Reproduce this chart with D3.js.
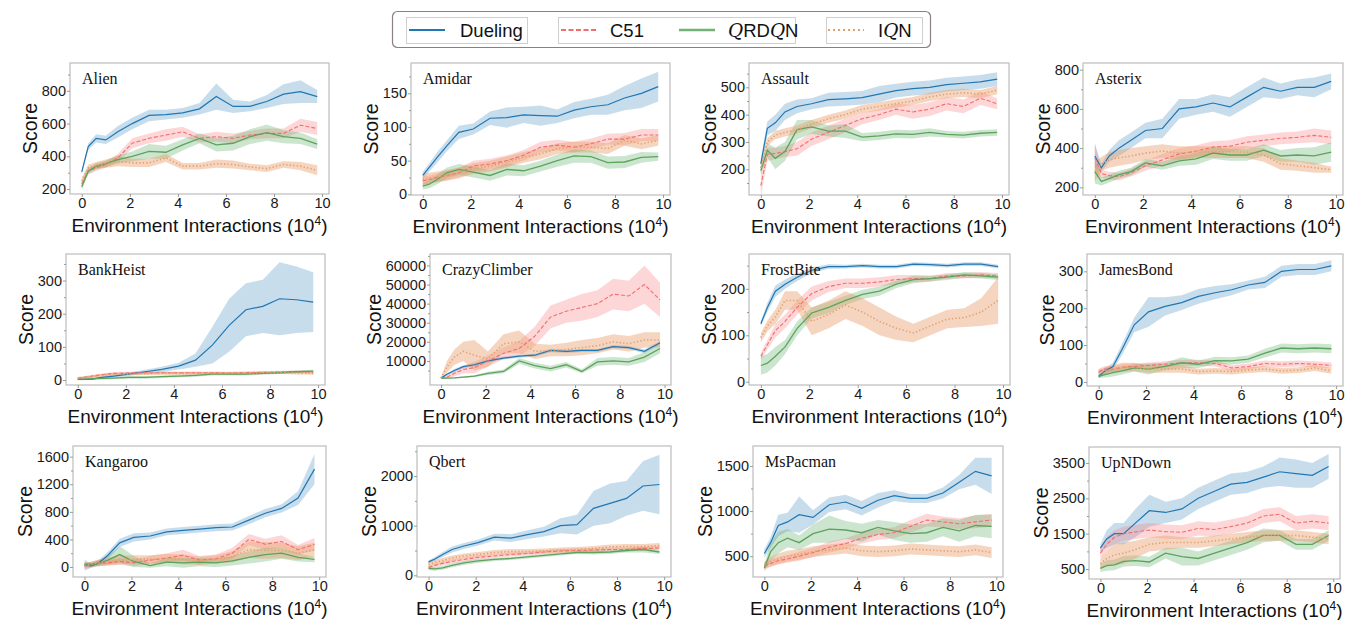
<!DOCTYPE html>
<html>
<head>
<meta charset="utf-8">
<script src="https://cdn.jsdelivr.net/npm/d3@7"></script>
<style>
  body { margin: 0; background: #fff; }
  svg { font-family: "Liberation Sans", Arial, sans-serif; }
</style>
</head>
<body>
<div id="chart"></div>
<script>
// environment interactions (x 10^4) at which each run was evaluated
var steps = [0, 0.27, 0.6, 1.0, 1.5, 2.1, 2.8, 3.5, 4.2, 4.9, 5.6, 6.3, 7.0, 7.7, 8.4, 9.1, 9.8];

var games = ["Alien", "Amidar", "Assault", "Asterix", "BankHeist", "CrazyClimber",
  "FrostBite", "JamesBond", "Kangaroo", "Qbert", "MsPacman", "UpNDown"];

var xTicks = [0, 2, 4, 6, 8, 10];

var yTicks = [
  [200, 400, 600, 800], [0, 50, 100, 150], [200, 300, 400, 500], [200, 400, 600, 800],
  [0, 100, 200, 300], [10000, 20000, 30000, 40000, 50000, 60000], [0, 100, 200], [0, 100, 200, 300],
  [0, 400, 800, 1200, 1600], [0, 1000, 2000], [500, 1000, 1500], [500, 1500, 2500, 3500]
];

var yLimits = [
  [170, 970], [-1, 195], [106, 589], [161, 834],
  [-15, 380], [-2600, 66000], [-7, 275], [-11, 347],
  [-145, 1755], [-34, 2606], [270, 1720], [220, 3950]
];

// one row per game, same order as `games`
var duelingMean = [
  [305, 460, 510, 500, 550, 600, 650, 655, 665, 690, 765, 705, 705, 735, 780, 795, 765],
  [28, 40, 55, 72, 92, 97, 113, 114, 118, 117, 116, 125, 130, 133, 143, 150, 160],
  [220, 350, 370, 410, 430, 440, 455, 458, 462, 475, 488, 495, 500, 510, 515, 520, 530],
  [360, 300, 360, 400, 440, 490, 500, 600, 610, 630, 610, 660, 710, 690, 710, 710, 740],
  [2, 2, 3, 8, 12, 18, 25, 32, 42, 60, 105, 165, 212, 222, 245, 242, 235],
  [1000, 3000, 5000, 7000, 8000, 10000, 11500, 12500, 13000, 15500, 15000, 15500, 15500, 17500, 17000, 15000, 19500],
  [125, 160, 195, 210, 225, 240, 248, 248, 250, 248, 248, 253, 252, 250, 253, 253, 248],
  [15, 30, 42, 90, 155, 190, 205, 215, 232, 242, 250, 263, 270, 300, 305, 305, 315],
  [30, 15, 60, 170, 350, 430, 450, 510, 530, 550, 570, 580, 680, 780, 850, 1000, 1420],
  [270, 330, 420, 520, 590, 660, 770, 750, 820, 880, 1000, 1020, 1350, 1450, 1550, 1800, 1830],
  [530, 650, 840, 880, 960, 930, 1070, 1100, 1030, 1120, 1170, 1140, 1140, 1200, 1320, 1440, 1390],
  [1100, 1350, 1500, 1500, 1800, 2150, 2100, 2200, 2500, 2700, 2900, 2950, 3100, 3250, 3200, 3150, 3400]
];
var duelingSpread = [
  [15, 20, 25, 25, 35, 35, 35, 30, 30, 35, 80, 40, 30, 40, 60, 70, 40],
  [5, 6, 8, 8, 10, 8, 10, 15, 12, 15, 10, 12, 12, 15, 18, 22, 22],
  [20, 25, 30, 30, 25, 20, 25, 25, 25, 30, 25, 25, 25, 25, 25, 25, 25],
  [60, 20, 30, 40, 40, 40, 50, 50, 40, 45, 50, 50, 50, 40, 40, 50, 40],
  [1, 1, 2, 3, 4, 5, 6, 8, 10, 20, 55, 80, 80, 80, 110, 100, 90],
  [300, 600, 800, 800, 800, 800, 800, 800, 800, 900, 800, 800, 800, 900, 900, 1000, 1000],
  [5, 10, 12, 10, 8, 6, 5, 4, 4, 4, 4, 4, 4, 4, 4, 4, 4],
  [5, 8, 10, 15, 20, 40, 25, 20, 20, 18, 15, 12, 15, 15, 15, 15, 15],
  [80, 30, 40, 50, 60, 60, 50, 50, 50, 50, 50, 50, 60, 60, 60, 100, 220],
  [30, 40, 50, 60, 60, 60, 70, 80, 90, 100, 150, 200, 350, 400, 350, 500, 600],
  [50, 60, 120, 100, 200, 80, 80, 80, 80, 80, 60, 50, 50, 60, 80, 150, 200],
  [100, 250, 300, 300, 400, 450, 300, 300, 300, 300, 300, 300, 300, 400, 400, 350, 350]
];

var c51Mean = [
  [230, 310, 330, 350, 390, 480, 510, 530, 550, 510, 520, 510, 530, 540, 540, 590, 570],
  [20, 22, 25, 28, 32, 42, 45, 50, 58, 70, 73, 70, 75, 82, 82, 88, 88],
  [140, 255, 258, 265, 275, 310, 335, 360, 385, 400, 420, 410, 420, 440, 430, 460, 440],
  [350, 270, 260, 255, 275, 310, 340, 370, 385, 405, 410, 430, 440, 450, 455, 465, 455],
  [5, 8, 12, 16, 20, 21, 22, 22, 22, 22, 22, 21, 22, 23, 24, 25, 24],
  [1000, 1500, 3500, 5500, 6500, 10000, 14000, 16500, 23000, 33000, 36000, 38000, 40000, 45000, 44000, 50000, 42000],
  [55, 80, 110, 130, 160, 190, 205, 212, 212, 215, 220, 222, 222, 228, 228, 230, 228],
  [28, 35, 35, 40, 42, 45, 48, 52, 52, 50, 38, 42, 50, 48, 50, 48, 45],
  [10, 30, 60, 60, 80, 60, 100, 130, 170, 100, 120, 200, 400, 330, 370, 250, 330],
  [160, 200, 240, 280, 320, 360, 390, 420, 440, 470, 490, 500, 510, 520, 520, 540, 550],
  [390, 420, 450, 470, 500, 540, 600, 640, 700, 740, 760, 830, 900, 880, 860, 880, 900],
  [950, 1200, 1400, 1500, 1550, 1600, 1560, 1540, 1650, 1620, 1700, 1800, 2000, 2050, 1800, 1850, 1800]
];
var c51Spread = [
  [20, 20, 20, 20, 25, 30, 30, 35, 30, 25, 30, 30, 25, 30, 30, 40, 40],
  [6, 6, 6, 7, 7, 8, 8, 8, 8, 8, 8, 8, 8, 8, 9, 9, 9],
  [40, 25, 20, 20, 25, 25, 25, 25, 20, 20, 20, 25, 25, 25, 25, 25, 20],
  [80, 20, 20, 20, 20, 25, 30, 30, 30, 30, 30, 30, 30, 30, 30, 35, 35],
  [4, 4, 4, 4, 4, 4, 4, 4, 4, 4, 4, 4, 4, 4, 4, 4, 4],
  [500, 1000, 1500, 2000, 3000, 3000, 3000, 4000, 5000, 6000, 6000, 7000, 7000, 8000, 8000, 10000, 9000],
  [8, 10, 15, 15, 15, 15, 12, 10, 10, 10, 10, 8, 6, 6, 6, 6, 6],
  [8, 8, 8, 8, 8, 8, 8, 8, 8, 8, 8, 8, 8, 8, 8, 8, 8],
  [40, 40, 40, 40, 50, 50, 60, 70, 80, 60, 60, 80, 80, 80, 90, 70, 90],
  [40, 40, 40, 40, 40, 40, 40, 40, 40, 40, 40, 40, 40, 40, 40, 40, 40],
  [40, 40, 40, 40, 50, 50, 60, 60, 60, 60, 60, 70, 70, 60, 60, 70, 70],
  [150, 200, 200, 200, 200, 200, 200, 200, 200, 200, 200, 200, 200, 200, 200, 200, 200]
];

var qrdqnMean = [
  [215, 310, 340, 355, 380, 400, 430, 425, 470, 510, 470, 480, 520, 545, 520, 510, 475],
  [12, 15, 22, 32, 37, 33, 28, 37, 35, 42, 50, 57, 56, 47, 48, 55, 56],
  [195, 270, 240, 265, 345, 355, 340, 340, 318, 322, 330, 328, 335, 328, 325, 332, 335],
  [280, 230, 245, 265, 280, 325, 310, 335, 345, 375, 365, 365, 390, 360, 365, 360, 380],
  [3, 3, 4, 5, 6, 8, 8, 10, 12, 14, 18, 18, 18, 20, 22, 25, 27],
  [1000, 1000, 1100, 1500, 2000, 3500, 4500, 10000, 7500, 6000, 8000, 4500, 9500, 10000, 9500, 12000, 16500],
  [35, 40, 55, 75, 115, 148, 160, 175, 188, 195, 210, 220, 222, 225, 230, 228, 225],
  [15, 20, 25, 30, 38, 35, 42, 52, 48, 58, 57, 62, 78, 92, 90, 92, 90],
  [40, 40, 50, 100, 180, 80, 20, 70, 60, 70, 60, 90, 140, 180, 200, 140, 110],
  [140, 130, 150, 200, 250, 290, 320, 340, 370, 400, 430, 460, 460, 470, 500, 520, 470],
  [370, 550, 650, 700, 650, 750, 800, 790, 760, 820, 780, 750, 760, 820, 780, 840, 830],
  [520, 600, 620, 720, 740, 700, 950, 850, 800, 950, 1100, 1250, 1450, 1450, 1200, 1200, 1450]
];
var qrdqnSpread = [
  [20, 20, 20, 20, 25, 30, 45, 40, 35, 30, 40, 45, 45, 50, 40, 35, 30],
  [5, 6, 7, 8, 8, 8, 8, 9, 8, 8, 9, 10, 9, 9, 9, 8, 6],
  [15, 25, 40, 35, 35, 25, 20, 25, 15, 15, 15, 15, 15, 12, 12, 12, 12],
  [60, 20, 20, 20, 20, 20, 20, 25, 30, 30, 30, 30, 30, 30, 35, 45, 50],
  [4, 4, 4, 4, 4, 4, 4, 4, 4, 4, 4, 4, 4, 4, 4, 4, 4],
  [300, 300, 300, 400, 500, 800, 1000, 1500, 1500, 1500, 1500, 1000, 2000, 2000, 2000, 2500, 2500],
  [20, 20, 20, 15, 15, 12, 12, 10, 10, 10, 8, 8, 6, 6, 6, 6, 6],
  [5, 8, 10, 10, 10, 15, 10, 15, 10, 10, 10, 10, 12, 12, 12, 12, 12],
  [30, 30, 40, 60, 120, 80, 30, 60, 70, 60, 60, 70, 90, 100, 80, 60, 40],
  [40, 40, 40, 40, 40, 40, 30, 30, 30, 30, 30, 30, 40, 40, 40, 60, 40],
  [40, 100, 120, 100, 80, 100, 150, 100, 100, 80, 100, 100, 100, 100, 120, 120, 130],
  [100, 150, 150, 150, 150, 150, 150, 250, 200, 200, 200, 200, 200, 150, 150, 150, 150]
];

var iqnMean = [
  [250, 330, 345, 355, 370, 360, 360, 390, 340, 340, 355, 350, 335, 325, 350, 340, 315],
  [22, 24, 26, 28, 32, 38, 42, 48, 55, 60, 68, 70, 70, 68, 80, 75, 80],
  [205, 300, 325, 335, 345, 365, 385, 400, 420, 430, 440, 450, 465, 475, 480, 475, 490],
  [280, 320, 340, 350, 360, 375, 385, 375, 380, 380, 380, 380, 365, 320, 310, 300, 290],
  [5, 7, 10, 14, 17, 18, 19, 20, 20, 20, 20, 20, 21, 22, 22, 21, 20],
  [1000, 7000, 12000, 15000, 13000, 11000, 19000, 20000, 15000, 15500, 16000, 17000, 18000, 20000, 19000, 21000, 21000],
  [95, 120, 140, 175, 175, 130, 145, 165, 150, 130, 115, 105, 120, 135, 138, 150, 175],
  [25, 30, 35, 40, 40, 35, 35, 35, 28, 30, 28, 32, 35, 30, 32, 38, 30],
  [20, 40, 60, 80, 100, 110, 110, 130, 110, 90, 110, 150, 250, 240, 240, 200, 250],
  [220, 260, 300, 350, 390, 420, 460, 480, 480, 490, 510, 520, 540, 570, 580, 580, 600],
  [400, 440, 470, 500, 520, 550, 570, 590, 560, 550, 560, 580, 570, 560, 550, 570, 540],
  [650, 800, 900, 950, 1050, 1200, 1250, 1250, 1250, 1300, 1350, 1400, 1450, 1450, 1450, 1400, 1350]
];
var iqnSpread = [
  [20, 20, 20, 25, 30, 25, 25, 25, 20, 20, 25, 25, 20, 20, 20, 25, 30],
  [8, 8, 8, 8, 8, 8, 8, 8, 8, 8, 8, 8, 8, 8, 8, 8, 8],
  [20, 15, 15, 15, 15, 15, 15, 15, 15, 15, 15, 15, 15, 15, 15, 15, 15],
  [50, 35, 40, 40, 40, 35, 35, 35, 30, 30, 30, 30, 35, 30, 25, 25, 15],
  [4, 4, 4, 4, 4, 4, 4, 4, 4, 4, 4, 4, 4, 4, 4, 4, 4],
  [500, 3000, 4000, 5000, 8000, 4000, 5000, 6000, 4000, 3000, 3500, 4000, 4000, 4000, 4000, 4000, 4000],
  [10, 12, 15, 20, 20, 30, 30, 30, 30, 30, 25, 20, 20, 20, 20, 30, 50],
  [8, 10, 10, 12, 12, 10, 10, 10, 8, 8, 8, 8, 8, 8, 8, 8, 8],
  [30, 40, 50, 60, 60, 60, 60, 60, 70, 60, 60, 80, 120, 120, 110, 100, 100],
  [50, 50, 50, 50, 50, 50, 50, 50, 50, 50, 50, 50, 50, 50, 50, 50, 50],
  [40, 50, 60, 60, 60, 60, 60, 60, 60, 60, 60, 60, 60, 60, 60, 60, 60],
  [150, 200, 300, 300, 250, 200, 200, 150, 150, 150, 150, 150, 150, 150, 150, 150, 150]
];

//--------------------------------
var series = [
  { name: "Dueling", mean: duelingMean, spread: duelingSpread, color: "#1f77b4", band: "#1f77b4", alpha: 0.25, dash: null, width: 1.2 },
  { name: "C51", mean: c51Mean, spread: c51Spread, color: "#f46d6d", band: "#fa7a7a", alpha: 0.3, dash: "4,2", width: 1.1 },
  { name: "QRDQN", mean: qrdqnMean, spread: qrdqnSpread, color: "#5ca35c", band: "#55a860", alpha: 0.3, dash: null, width: 1.3 },
  { name: "IQN", mean: iqnMean, spread: iqnSpread, color: "#e3a06d", band: "#e89a66", alpha: 0.42, dash: "1.3,2.2", width: 1.6 }
];

var SERIF = "'Liberation Serif', 'Times New Roman', serif";
var SANS = "'Liberation Sans', Arial, sans-serif";

// plot boxes [left, top, right, bottom]
var frames = [
  [70, 63, 329, 194], [411, 63, 670, 195], [749, 63, 1009, 195], [1083, 63, 1343, 195],
  [66, 254, 325, 385], [430, 254, 671, 385], [749, 254, 1010, 385], [1087, 254, 1343, 386],
  [73, 446, 326, 577], [417, 446, 671, 577], [753, 446, 1003, 577], [1089, 447, 1340, 579]
];

var svg = d3.select("#chart").append("svg").attr("width", 1349).attr("height", 620);
svg.append("rect").attr("width", "100%").attr("height", "100%").attr("fill", "white");

games.forEach(function (game, gi) {
  var f = frames[gi];
  var w = f[2] - f[0], h = f[3] - f[1];
  var g = svg.append("g").attr("transform", "translate(" + f[0] + "," + f[1] + ")");

  var x = d3.scaleLinear().domain([-0.49, 10.29]).range([0, w]);
  var y = d3.scaleLinear().domain(yLimits[gi]).range([h, 0]);

  g.append("clipPath").attr("id", "clip" + gi)
    .append("rect").attr("width", w).attr("height", h);

  var plot = g.append("g").attr("clip-path", "url(#clip" + gi + ")");

  var area = d3.area()
    .x(function (d) { return x(d.x); })
    .y0(function (d) { return y(d.m - d.s); })
    .y1(function (d) { return y(d.m + d.s); });
  var line = d3.line()
    .x(function (d) { return x(d.x); })
    .y(function (d) { return y(d.m); });

  var rows = series.map(function (s) {
    return steps.map(function (t, i) {
      return { x: t, m: s.mean[gi][i], s: s.spread[gi][i] };
    });
  });

  series.forEach(function (s, si) {
    plot.append("path").datum(rows[si]).attr("d", area)
      .attr("fill", s.band).attr("fill-opacity", s.alpha).attr("stroke", "none");
  });
  series.forEach(function (s, si) {
    plot.append("path").datum(rows[si]).attr("d", line)
      .attr("fill", "none").attr("stroke", s.color).attr("stroke-width", s.width)
      .attr("stroke-dasharray", s.dash);
  });

  g.append("rect").attr("width", w).attr("height", h)
    .attr("fill", "none").attr("stroke", "#bdbdbd").attr("stroke-width", 1.2);

  // x axis
  var xa = g.append("g").attr("transform", "translate(0," + h + ")")
    .call(d3.axisBottom(x).tickValues(xTicks).tickSize(3).tickSizeOuter(0).tickPadding(1));
  xa.select(".domain").remove();

  // minor y ticks halfway between labelled ones
  var yt = yTicks[gi];
  var step = yt.length > 1 ? yt[1] - yt[0] : 100;
  var minor = [];
  for (var v = yt[0] - step / 2; v <= yLimits[gi][1]; v += step) {
    if (v >= yLimits[gi][0]) minor.push(v);
  }
  var ym = g.append("g")
    .call(d3.axisLeft(y).tickValues(minor).tickSize(2).tickFormat(""));
  ym.select(".domain").remove();

  var ya = g.append("g")
    .call(d3.axisLeft(y).tickValues(yt).tickSize(3).tickSizeOuter(0).tickPadding(1).tickFormat(d3.format("d")));
  ya.select(".domain").remove();

  [xa, ya, ym].forEach(function (a) {
    a.attr("font-family", null).attr("font-size", null);
    a.selectAll("line").attr("stroke", "#9a9a9a");
    a.selectAll("text").style("font-size", "14.5px").style("font-family", SANS).attr("fill", "#1a1a1a");
  });

  var labelW = ya.node().getBBox().width;

  g.append("text")
    .attr("transform", "translate(" + (-(labelW + 5)) + "," + (h / 2) + ") rotate(-90)")
    .attr("text-anchor", "middle")
    .style("font-size", "19.5px")
    .attr("fill", "#111")
    .text("Score");

  var xl = g.append("text")
    .attr("x", w / 2).attr("y", h + 38)
    .attr("text-anchor", "middle")
    .style("font-size", "19px")
    .attr("fill", "#111");
  xl.append("tspan").text("Environment Interactions (10");
  xl.append("tspan").style("font-size", "12px").attr("dy", -7).text("4");
  xl.append("tspan").attr("dy", 7).text(")");

  g.append("text")
    .attr("x", 12).attr("y", 21)
    .style("font-family", SERIF)
    .style("font-size", "16px")
    .attr("fill", "#111")
    .text(game);
});

// legend
var lg = svg.append("g");
lg.append("rect").attr("x", 392.5).attr("y", 11.5).attr("width", 538).attr("height", 36)
  .attr("rx", 5).attr("fill", "white").attr("stroke", "#8c7f82").attr("stroke-width", 1.2);
[[406, 121], [558, 237], [826, 96]].forEach(function (b) {
  lg.append("rect").attr("x", b[0] + 0.5).attr("y", 17.5).attr("width", b[1]).attr("height", 26)
    .attr("fill", "none").attr("stroke", "#cfcfcf").attr("stroke-width", 1);
});

var legendPos = [[409, 460], [561, 610], [679, 728], [828, 878]];
series.forEach(function (s, si) {
  var p = legendPos[si];
  lg.append("line").attr("x1", p[0]).attr("x2", p[0] + 36).attr("y1", 30).attr("y2", 30)
    .attr("stroke", s.color).attr("stroke-width", si === 2 ? 2.6 : 1.8)
    .attr("stroke-opacity", si === 2 ? 0.85 : 1)
    .attr("stroke-dasharray", si === 1 ? "5,2.5" : (si === 3 ? "2,3" : null));
  var t = lg.append("text").attr("x", p[1]).attr("y", 37).style("font-size", "18.5px").attr("fill", "#111");
  function q() {
    t.append("tspan").style("font-family", "'DejaVu Serif', serif").style("font-style", "italic").text("Q");
  }
  if (s.name === "QRDQN") {
    q(); t.append("tspan").text("RD"); q(); t.append("tspan").text("N");
  } else if (s.name === "IQN") {
    t.append("tspan").text("I"); q(); t.append("tspan").text("N");
  } else {
    t.text(s.name);
  }
});
</script>
</body>
</html>
